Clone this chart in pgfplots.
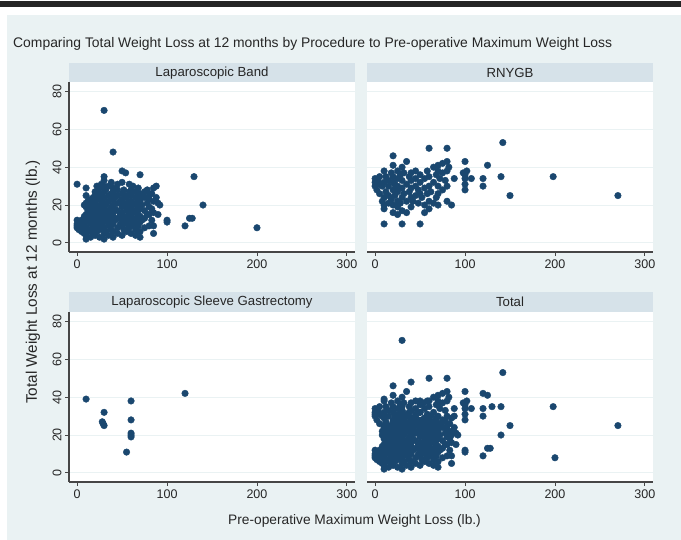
\documentclass[border=0pt]{standalone}
\usepackage{fontspec}
\setmainfont{Liberation Sans}
\usepackage{pgfplots}
\usepackage{pgfplotstable}
\pgfplotsset{compat=1.18}
\definecolor{bgc}{RGB}{234,242,243}
\definecolor{strip}{RGB}{214,226,233}
\definecolor{navy}{RGB}{26,71,111}
\definecolor{axc}{RGB}{70,70,70}

\pgfplotstableread{
x y
0 8
0 10
0 9
0 31
0 12
2 7
2 9
5 10
5 12
5 6
5 8
8 11
8 20
8 14
8 5
10 2
10 4
10 8
10 11
10 15
10 19
10 21
10 25
10 29
12 6
12 13
12 17
12 22
15 3
15 7
15 10
15 14
15 18
15 20
15 23
15 16
18 5
18 9
18 12
18 21
18 24
20 4
20 8
20 11
20 13
20 16
20 19
20 22
20 25
20 27
22 6
22 14
22 18
22 30
25 3
25 7
25 10
25 12
25 15
25 17
25 20
25 23
25 26
25 29
27 9
27 13
27 19
27 24
27 31
30 2
30 5
30 8
30 11
30 14
30 16
30 18
30 21
30 24
30 27
30 30
30 33
30 35
30 70
32 6
32 12
32 20
32 28
35 4
35 9
35 13
35 15
35 17
35 22
35 25
35 30
38 7
38 11
38 19
38 26
38 32
40 3
40 6
40 10
40 14
40 16
40 20
40 23
40 27
40 29
40 48
42 12
42 18
42 24
45 5
45 8
45 13
45 17
45 21
45 25
45 28
45 31
48 10
48 15
48 22
50 4
50 9
50 12
50 16
50 19
50 23
50 26
50 32
50 38
52 7
52 14
52 20
52 28
54 37
54 11
54 25
55 6
55 10
55 13
55 17
55 21
55 24
58 8
58 15
58 19
58 27
58 31
60 5
60 9
60 12
60 14
60 18
60 22
60 25
60 28
62 11
62 16
62 20
62 30
65 4
65 7
65 10
65 13
65 17
65 21
65 24
65 27
68 9
68 15
68 19
68 23
68 29
70 3
70 6
70 11
70 14
70 18
70 22
70 26
70 36
72 12
72 20
72 25
75 8
75 13
75 17
75 24
75 27
78 15
78 21
78 28
80 9
80 15
80 19
80 23
80 25
83 12
83 18
83 26
85 5
85 9
85 16
85 22
85 29
88 24
88 30
90 15
90 21
92 20
100 11
100 12
120 9
125 13
128 13
130 35
140 20
200 8
}\band

\pgfplotstableread{
x y
0 30
0 32
0 34
2 28
3 33
5 31
5 26
5 35
8 22
8 30
10 10
10 18
10 20
10 24
10 32
10 38
12 27
12 35
15 21
15 25
15 30
15 33
18 23
18 37
20 16
20 20
20 28
20 32
20 35
20 41
20 46
22 25
22 31
25 15
25 19
25 22
25 27
25 30
25 34
25 38
28 21
28 36
30 10
30 17
30 24
30 29
30 33
30 40
32 26
32 37
35 16
35 22
35 31
35 43
38 27
38 35
40 19
40 24
40 29
40 33
40 37
42 22
45 25
45 30
45 34
45 38
48 21
48 28
50 10
50 26
50 32
50 36
52 24
55 16
55 20
55 29
55 34
58 26
58 38
60 18
60 22
60 30
60 35
60 50
62 27
65 21
65 32
65 40
68 24
68 36
70 20
70 26
70 30
70 38
70 41
72 34
75 28
75 37
75 42
78 33
80 22
80 30
80 38
80 43
80 50
82 40
85 20
88 34
98 37
100 28
100 31
100 34
100 36
100 43
102 38
107 34
120 30
120 34
125 41
140 35
142 53
150 25
198 35
270 25
}\rnygb

\pgfplotstableread{
x y
10 39
30 32
28 27
29 26
30 25
60 38
60 28
60 21
60 20
60 19
55 11
120 42
}\sleeve

\pgfplotsset{
  panel/.style={
    scale only axis, width=286pt, height=170pt,
    xmin=-9, xmax=309, ymin=-4.8, ymax=85,
    axis background/.style={fill=white},
    axis lines=left, axis line style={-, axc, line width=1.1pt},
    xtick={0,100,200,300}, ytick={0,20,40,60,80},
    tick align=outside, major tick length=4pt,
    tick style={axc, line width=0.9pt},
    ymajorgrids, major grid style={bgc, line width=1pt},
    /pgf/number format/assume math mode=true,
    ticklabel style={font=\fontsize{12.5}{12.5}\selectfont, text=black!85},
    yticklabel style={rotate=90, anchor=south},
  },
  rightpanel/.style={
    panel,
    y axis line style={draw=none},
    ytick style={draw=none},
    yticklabels={},
  },
  dots/.style={only marks, mark=*, mark size=3.3pt, mark options={draw=navy, fill=navy}},
}

\begin{document}
\begin{tikzpicture}[x=1pt,y=1pt]
\useasboundingbox (0,0) rectangle (681,540);
\fill[white] (0,0) rectangle (681,540);
\fill[black!85] (0,533) rectangle (681,539);
\fill[bgc] (7,0) rectangle (681,525);

\node[anchor=base west, inner sep=0pt, font=\fontsize{13.9}{13.9}\selectfont, text=black!85] at (13,492)
  {Comparing Total Weight Loss at 12 months by Procedure to Pre-operative Maximum Weight Loss};

% headers
\fill[strip] (69,457.3) rectangle (355,477.3);
\fill[strip] (367,457.3) rectangle (653,477.3);
\fill[strip] (69,228) rectangle (355,248);
\fill[strip] (367,228) rectangle (653,248);
\node[font=\fontsize{13.2}{13.2}\selectfont, text=black!85] at (212,467.3) {Laparoscopic Band};
\node[font=\fontsize{13.2}{13.2}\selectfont, text=black!85] at (510,467.3) {RNYGB};
\node[font=\fontsize{13.2}{13.2}\selectfont, text=black!85] at (212,238) {Laparoscopic Sleeve Gastrectomy};
\node[font=\fontsize{13.2}{13.2}\selectfont, text=black!85] at (510,238) {Total};

\begin{axis}[panel, at={(69pt,288pt)}, anchor=south west]
\addplot[dots] table[x=x,y=y]{\band};
\end{axis}
\begin{axis}[rightpanel, at={(367pt,288pt)}, anchor=south west]
\addplot[dots] table[x=x,y=y]{\rnygb};
\end{axis}
\begin{axis}[panel, at={(69pt,58pt)}, anchor=south west]
\addplot[dots] table[x=x,y=y]{\sleeve};
\end{axis}
\begin{axis}[rightpanel, at={(367pt,58pt)}, anchor=south west]
\addplot[dots] table[x=x,y=y]{\band};
\addplot[dots] table[x=x,y=y]{\rnygb};
\addplot[dots] table[x=x,y=y]{\sleeve};
\end{axis}

\node[font=\fontsize{13.75}{13.75}\selectfont, text=black!85] at (354.5,19) {Pre-operative Maximum Weight Loss (lb.)};
\node[rotate=90, font=\fontsize{15.3}{15.3}\selectfont, text=black!85] at (33,258) {Total Weight Loss at 12 months (lb.)};
\end{tikzpicture}
\end{document}
